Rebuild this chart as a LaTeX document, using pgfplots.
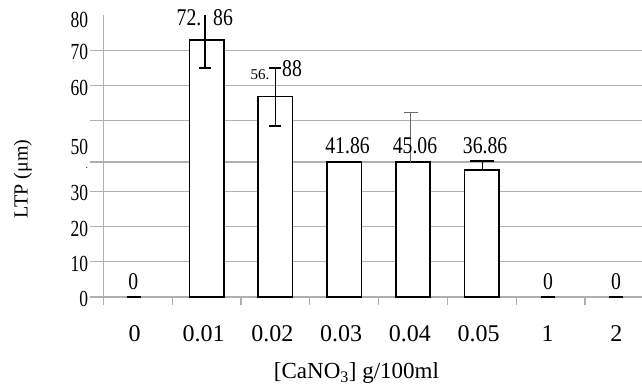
\documentclass[border=0pt]{standalone}
\usepackage{fontspec}
\setmainfont{Liberation Serif}
\newfontfamily\ynum{Liberation Serif}[FakeStretch=0.76]
\newfontfamily\bnum{Liberation Serif}[FakeStretch=0.82]
\usepackage{pgfplots}
\pgfplotsset{compat=1.18}
\definecolor{gridgray}{RGB}{175,175,175}
\definecolor{errgray}{RGB}{105,105,105}
\begin{document}
\begin{tikzpicture}
\begin{axis}[
 name=ax,
 scale only axis, width=550.4pt, height=282pt,
 xmin=-0.5, xmax=7.5, ymin=0, ymax=80,
 axis x line*=bottom, axis y line*=left,
 axis line style={gridgray, line width=1.2pt, -},
 xtick={0,...,7},
 xticklabels={0,0.01,0.02,0.03,0.04,0.05,1,2},
 major x tick style={draw=none},
 minor xtick={-0.5,0.5,...,7.5},
 minor x tick style={gridgray, line width=1.2pt},
 minor tick length=8pt,
 tick align=outside,
 ytick={0,10,20,30,38.3,50,60,70},
 yticklabels={0,10,20,30,{},{},60,70},
 major tick length=13pt,
 y tick style={gridgray, line width=1.2pt},
 ymajorgrids, grid style={gridgray, line width=1.2pt},
 yticklabel style={font=\fontsize{23}{23}\ynum, anchor=east, inner sep=0pt, xshift=-2pt, yshift=-2pt},
 xticklabel style={font=\fontsize{24}{24}\selectfont, anchor=north, inner sep=0pt, yshift=-15pt, xshift=-3pt},
 clip=false,
]
\addplot[ybar, bar width=34.4pt, fill=white, draw=black, line width=1.6pt]
 coordinates {(1,72.86)(2,56.88)(3,38.3)(4,38.3)(5,36.0)};
% error bars (low end, high end)
\addplot[black, line width=1.6pt, mark=-, mark size=6pt, mark indices={1}, forget plot]
 coordinates {(0.975,64.96)(0.975,79.96)};
\addplot[black, line width=1.6pt, mark=-, mark size=6pt, forget plot]
 coordinates {(2,48.48)(2,64.88)};
\addplot[errgray, line width=1.1pt, mark=-, mark size=7pt, mark indices={2}, forget plot]
 coordinates {(3.97,38.3)(3.97,52.4)};
\addplot[black, line width=1.6pt, mark=-, mark size=12pt, mark indices={2}, forget plot]
 coordinates {(5.01,36.0)(5.01,38.55)};
% zero values
\addplot[only marks, mark=-, mark size=7pt, mark options={draw=black, line width=2.5pt}]
 coordinates {(-0.05,0)(5.96,0)(6.95,0)};
% value labels
\node[font=\fontsize{24}{24}\bnum, inner sep=0pt] at (axis cs:-0.064,4.3) {0};
\node[font=\fontsize{24}{24}\bnum, inner sep=0pt] at (axis cs:5.964,4.3) {0};
\node[font=\fontsize{24}{24}\bnum, inner sep=0pt] at (axis cs:6.952,4.3) {0};
\node[font=\fontsize{24}{24}\bnum, inner sep=0pt] at (axis cs:0.746,79.15) {72.};
\node[font=\fontsize{24}{24}\bnum, inner sep=0pt] at (axis cs:1.240,79.15) {86};
\node[font=\fontsize{15}{15}\selectfont, inner sep=0pt] at (axis cs:1.778,63.0) {56.};
\node[font=\fontsize{24}{24}\bnum, inner sep=0pt] at (axis cs:2.243,64.7) {88};
\node[font=\fontsize{24}{24}\bnum, inner sep=0pt] at (axis cs:3.050,42.98) {41.86};
\node[font=\fontsize{24}{24}\bnum, inner sep=0pt] at (axis cs:4.031,42.98) {45.06};
\node[font=\fontsize{24}{24}\bnum, inner sep=0pt] at (axis cs:5.049,42.98) {36.86};
% odd y labels
\node[font=\fontsize{23}{23}\ynum, inner sep=0pt, anchor=east, xshift=-15pt] at (axis cs:-0.5,78.6) {80};
\node[font=\fontsize{23}{23}\ynum, inner sep=0pt, anchor=east, xshift=-15pt] at (axis cs:-0.5,42.55) {50};
\node[font=\fontsize{10}{10}\selectfont, inner sep=0pt, anchor=east, xshift=-15pt] at (axis cs:-0.5,36.6) {.};
% axis titles
\node[rotate=90, font=\fontsize{20}{20}\selectfont] at ([xshift=-80.5pt]axis cs:-0.5,33.5) {LTP (μm)};
\node[font=\fontsize{23}{23}\selectfont] at (axis cs:3.18,-21.56) {[CaNO\textsubscript{3}] g/100ml};
\end{axis}
\pgfresetboundingbox
\path[use as bounding box] (ax.south west) ++(-103.3pt,-94pt) rectangle ([xshift=-11.7pt,yshift=15pt]ax.north east);
\end{tikzpicture}
\end{document}
